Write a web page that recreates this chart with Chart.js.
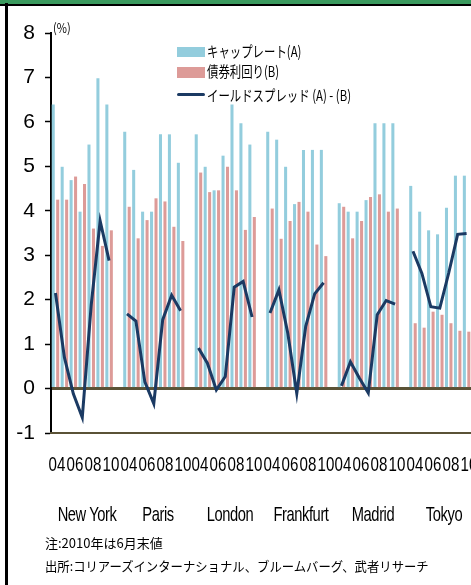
<!DOCTYPE html>
<html>
<head>
<meta charset="utf-8">
<script src="https://cdn.jsdelivr.net/npm/chart.js@4.4.0/dist/chart.umd.min.js"></script>
<style>
html,body{margin:0;padding:0;overflow:hidden;background:#fff;width:471px;height:585px;}
#wrap{position:absolute;left:0;top:0;width:480px;height:585px;}
canvas{position:absolute;left:0;top:0;}
.abs{position:absolute;white-space:nowrap;}
.jp{font-family:"Noto Sans CJK JP","Noto Sans",sans-serif;color:#000;}
.cond{transform-origin:0 50%;}
.lab{position:absolute;white-space:nowrap;font-family:"Liberation Sans",Arial,sans-serif;color:#000;line-height:24px;height:24px;}
</style>
</head>
<body>
<div id="wrap">
  <canvas id="c" width="480" height="585"></canvas>
  <div class="abs" style="left:0;top:0;width:480px;height:3.5px;background:#3a9a5e;"></div>
  <div class="abs" style="left:0;top:3.5px;width:480px;height:2.5px;background:#000;"></div>
  <div class="abs" style="left:5px;top:3px;width:2.5px;height:582px;background:#000;"></div>

  <div class="abs jp cond" style="left:53px;top:20px;font-size:13px;line-height:16px;transform:scaleX(0.85);">(%)</div>

  <div class="abs" style="left:177px;top:47px;width:28px;height:10px;background:#93cddd;"></div>
  <div class="abs jp cond" style="left:207px;top:41px;font-size:15px;line-height:20px;transform:scaleX(0.76);">キャップレート(A)</div>
  <div class="abs" style="left:177px;top:67px;width:28px;height:11px;background:#dd9b98;"></div>
  <div class="abs jp cond" style="left:207px;top:61px;font-size:15px;line-height:20px;transform:scaleX(0.76);">債券利回り(B)</div>
  <div class="abs" style="left:177px;top:92.5px;width:28px;height:3px;background:#1b3a63;border-radius:2px;"></div>
  <div class="abs jp cond" style="left:207px;top:85px;font-size:15px;line-height:20px;transform:scaleX(0.76);">イールドスプレッド (A) - (B)</div>

  <div class="abs jp" style="left:45px;top:535px;font-size:13px;line-height:16px;">注:2010年は6月末値</div>
  <div class="abs jp cond" style="left:45px;top:558px;font-size:13px;line-height:16px;transform:scaleX(0.95);">出所:コリアーズインターナショナル、ブルームバーグ、武者リサーチ</div>
  <div id="xlabels"></div>
</div>
<script>
const cities = ['New York', 'Paris', 'London', 'Frankfurt', 'Madrid', 'Tokyo'];
const years = ['04', '05', '06', '07', '08', '09', '10'];
const shownYears = ['04', '06', '08', '10'];

// キャップレート(A), per city 2004-2010
const capRate = [
  [6.39, 4.99, 4.69, 3.98, 5.49, 6.98, 6.39],
  [5.78, 4.92, 3.98, 3.98, 5.72, 5.72, 5.08],
  [5.72, 4.99, 4.46, 5.24, 6.39, 5.97, 5.49],
  [5.78, 5.60, 4.99, 4.15, 5.37, 5.37, 5.37],
  [4.17, 3.98, 3.98, 4.24, 5.97, 5.97, 5.97],
  [4.56, 3.98, 3.56, 3.47, 4.07, 4.79, 4.79]
];
// 債券利回り(B)
const bondYield = [
  [4.25, 4.25, 4.77, 4.60, 3.60, 3.21, 3.56],
  [4.09, 3.38, 3.79, 4.28, 4.21, 3.64, 3.32],
  [4.86, 4.42, 4.46, 4.99, 4.46, 3.57, 3.86],
  [4.05, 3.37, 3.77, 4.20, 3.98, 3.24, 2.98],
  [4.09, 3.38, 3.77, 4.31, 4.37, 3.98, 4.05],
  [1.47, 1.37, 1.73, 1.66, 1.47, 1.30, 1.28]
];
// イールドスプレッド (A)-(B)
const spread = [
  [2.15, 0.70, -0.12, -0.65, 1.88, 3.77, 2.88],
  [1.68, 1.52, 0.15, -0.34, 1.55, 2.10, 1.75],
  [0.91, 0.57, -0.03, 0.27, 2.28, 2.41, 1.61],
  [1.70, 2.22, 1.24, -0.11, 1.40, 2.13, 2.38],
  [0.06, 0.60, 0.24, -0.10, 1.66, 1.98, 1.90],
  [3.09, 2.59, 1.84, 1.81, 2.60, 3.47, 3.49]
];

// flatten with one empty gap category after every city
function flat(series) {
  const out = [];
  series.forEach(arr => { arr.forEach(v => out.push(v)); out.push(null); });
  return out;
}
const catLabels = [];
cities.forEach(() => { years.forEach(y => catLabels.push(y)); catLabels.push(''); });
const perCity = years.length + 1;

const BLUE = '#93cddd', PINK = '#dd9b98', NAVY = '#1b3a63', OLIVE = '#5a5236';

const chart = new Chart(document.getElementById('c'), {
  data: {
    labels: catLabels,
    datasets: [
      { type: 'line', label: 'イールドスプレッド (A) - (B)', data: flat(spread), borderColor: NAVY,
        borderWidth: 3, pointRadius: 0, tension: 0, spanGaps: false, order: 0 },
      { type: 'bar', label: 'キャップレート(A)', data: flat(capRate), backgroundColor: BLUE,
        categoryPercentage: 1.0, barPercentage: 0.68, order: 1 },
      { type: 'bar', label: '債券利回り(B)', data: flat(bondYield), backgroundColor: PINK,
        categoryPercentage: 1.0, barPercentage: 0.68, order: 2 }
    ]
  },
  options: {
    responsive: false,
    devicePixelRatio: 1,
    animation: false,
    layout: { padding: { top: 33, bottom: 52, left: 0, right: 0 } },
    plugins: { legend: { display: false }, tooltip: { enabled: false } },
    scales: {
      y: {
        min: -1, max: 8,
        ticks: { stepSize: 1, color: '#000', padding: 10, font: { family: "'Liberation Sans',Arial,sans-serif", size: 21 } },
        grid: {
          drawOnChartArea: true,
          color: c => (c.tick && c.tick.value === 0) ? OLIVE : 'rgba(0,0,0,0)',
          lineWidth: c => (c.tick && c.tick.value === 0) ? 3 : 1,
          tickColor: '#000', tickWidth: 1.5, tickLength: 6
        },
        border: { display: true, color: '#000', width: 2 },
        afterFit: s => { s.width = 51; }
      },
      x: {
        type: 'category',
        offset: true,
        grid: { display: false },
        border: { display: true, color: OLIVE, width: 2 },
        ticks: { display: false, autoSkip: false },
        afterFit: s => { s.height = 100; }
      }
    }
  }
});

// Category (year) and city labels, placed with the chart's own x scale, drawn condensed as HTML text
const xs = chart.scales.x;
const host = document.getElementById('xlabels');
catLabels.forEach((lab, i) => {
  if (!shownYears.includes(lab)) return;
  const d = document.createElement('div');
  d.className = 'lab';
  d.textContent = lab;
  d.style.fontSize = '21px';
  d.style.left = (xs.getPixelForValue(i) + 2) + 'px';
  d.style.top = '452px';
  d.style.transform = 'translateX(-50%) scaleX(0.72)';
  host.appendChild(d);
});
cities.forEach((city, k) => {
  const d = document.createElement('div');
  d.className = 'lab';
  d.textContent = city;
  d.style.fontSize = '21px';
  d.style.letterSpacing = '-0.6px';
  d.style.left = xs.getPixelForValue(k * perCity + (perCity - 1) / 2) + 'px';
  d.style.top = '502px';
  d.style.transform = 'translateX(-50%) scaleX(0.7)';
  host.appendChild(d);
});
</script>
</body>
</html>
